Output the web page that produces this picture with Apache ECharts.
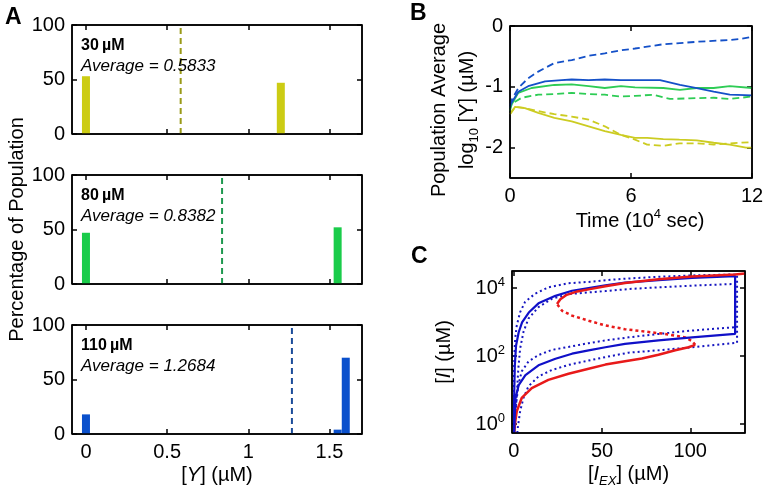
<!DOCTYPE html>
<html><head><meta charset="utf-8">
<script src="https://cdn.jsdelivr.net/npm/echarts@6/dist/echarts.min.js"></script>
<style>html,body{margin:0;padding:0;background:#fff}#c{width:766px;height:491px}</style>
</head><body><div id="c"></div>
<script>
// ---------- Panel A data ----------
const aConc = ['30', '80', '110'];
const aAverage = [0.5833, 0.8382, 1.2684];
const aBarsX = [[0, 1.2], [0, 1.55], [0, 1.55, 1.6]];
const aBarsPct = [[53, 47], [47, 52], [18, 4, 70]];
const aColors = ['#CCCC14', '#1ACC4A', '#0A50CC'];
const aLineColors = ['#9A9A18', '#1F9950', '#1C4C9A'];
const aXTicks = [0, 0.5, 1, 1.5];
const aYTicks = [0, 50, 100];

// ---------- Panel B data: [time (10^4 s), log10 <Y>] ----------
const bBlueDashed = [[0,-1.3],[0.08,-1.22],[0.41,-1.02],[0.9,-0.86],[1.4,-0.75],[2.2,-0.61],[3.06,-0.56],[3.9,-0.49],[4.7,-0.45],[5.5,-0.4],[6.2,-0.37],[7.6,-0.3],[9.26,-0.26],[10.9,-0.23],[11.5,-0.21],[12,-0.18]];
const bBlueSolid = [[0,-1.35],[0.05,-1.28],[0.41,-1.08],[0.9,-0.99],[1.74,-0.91],[2.56,-0.89],[3.06,-0.88],[3.9,-0.89],[4.7,-0.88],[5.5,-0.89],[6.2,-0.89],[7.44,-0.89],[8.43,-0.97],[9.26,-1.02],[10.1,-1.08],[10.9,-1.13],[12,-1.14]];
const bGreenSolid = [[0,-1.35],[0.1,-1.28],[0.41,-1.1],[1.07,-1.02],[2.2,-0.97],[3.06,-0.96],[3.9,-0.99],[4.7,-1.02],[5.5,-0.99],[6.2,-1.01],[7.6,-1.02],[8.43,-1.05],[9.26,-1.02],[10.1,-1.02],[10.9,-0.99],[12,-1.02]];
const bGreenDashed = [[0,-1.4],[0.08,-1.28],[0.58,-1.18],[1.4,-1.13],[2.2,-1.12],[3.06,-1.1],[3.9,-1.12],[4.7,-1.13],[5.5,-1.16],[6.2,-1.15],[7.1,-1.13],[7.93,-1.2],[8.9,-1.19],[10.1,-1.18],[10.9,-1.2],[12,-1.16]];
const bYellowSolid = [[0,-1.45],[0.25,-1.33],[0.74,-1.35],[1.4,-1.43],[2.2,-1.51],[3.06,-1.57],[3.9,-1.65],[4.7,-1.73],[5.5,-1.79],[6.2,-1.84],[6.8,-1.84],[7.6,-1.86],[8.4,-1.87],[9.26,-1.88],[10.1,-1.92],[10.9,-1.95],[11.7,-2.0],[12,-2.0]];
const bYellowDashed = [[0,-1.45],[0.25,-1.33],[0.74,-1.35],[1.4,-1.4],[2.2,-1.45],[3.06,-1.49],[3.9,-1.54],[4.7,-1.65],[5.5,-1.79],[6.2,-1.87],[6.8,-1.95],[7.6,-1.97],[8.4,-1.93],[9.26,-1.93],[10.1,-1.95],[10.9,-1.93],[12,-1.91]];
const bXTicks = [0, 6, 12];
const bYTicks = [-2, -1, 0];

// ---------- Panel C data: [I_EX (uM), log10 [I] (uM)] ----------
const cRedLower = [[0.3,-0.26],[0.8,0.05],[1.7,0.38],[4.5,0.77],[10.2,1.06],[19.6,1.3],[31,1.48],[42.4,1.63],[51.9,1.75],[63,1.85],[72.6,1.93],[82,2.04],[91.5,2.17],[99,2.26],[102.8,2.33]];
const cRedMiddle = [[102.8,2.33],[101,2.44],[97,2.55],[85.8,2.65],[74.5,2.72],[63,2.79],[51.9,2.9],[42.4,3.04],[33,3.19],[27.4,3.33],[24.5,3.53]];
const cRedUpper = [[24.5,3.53],[26.4,3.67],[30,3.8],[36,3.9],[42.4,3.96],[51.9,4.05],[63,4.15],[82,4.26],[101,4.34],[125.4,4.4],[131,4.43]];
const cBlueSolid = [[0.3,-0.26],[0.5,0.17],[1,0.76],[2.8,1.15],[6.6,1.44],[14,1.73],[23.6,1.92],[33,2.07],[42.4,2.17],[51.9,2.26],[63,2.36],[82,2.46],[101,2.55],[125.4,2.65],[125.4,4.35],[101,4.3],[82,4.23],[63,4.16],[51.9,4.08],[42.4,4.0],[33,3.92],[23.6,3.77],[14,3.55],[8.5,3.28],[4.7,2.99],[2.8,2.7],[1.3,2.31],[0.6,1.73],[0.2,0.75],[0.1,-0.26]];
const cBlueOuter = [[0,0.8],[0.3,2.0],[0.8,2.52],[1.7,2.9],[3.6,3.29],[6.4,3.59],[12,3.83],[19.6,4.02],[31,4.14],[42.4,4.18],[51.9,4.23],[65,4.28],[82,4.33],[101,4.37],[126.5,4.4],[126.5,2.39],[101,2.26],[82,2.17],[65,2.1],[51.9,1.97],[42.4,1.87],[31,1.74],[21.5,1.59],[14,1.4],[8.3,1.11],[5.5,0.77],[3.6,0.38],[2.3,-0.1],[2.0,-0.26]];
const cBlueInner = [[0.5,-0.1],[1.7,0.86],[2.6,1.64],[3.6,2.22],[5.5,2.71],[8.3,3.1],[14,3.44],[21.5,3.68],[31,3.82],[42.4,3.87],[51.9,3.91],[65,3.97],[82,4.02],[101,4.07],[125.4,4.12],[125.4,2.85],[101,2.75],[82,2.65],[65,2.55],[51.9,2.46],[42.4,2.38],[31,2.27],[21.5,2.18],[14,2.03],[8.3,1.84],[4.5,1.55],[2.6,1.15],[1.1,0.48],[0.3,-0.1]];
const cXTicks = [0, 50, 100];
const cYTicks = [0, 2, 4];

const FONT = 'Liberation Sans';
const chart = echarts.init(document.getElementById('c'), null, {renderer: 'canvas'});

const panels = [
  {g: {left: 72, top: 25, width: 290, height: 109}, x: [-0.086, 1.7, aXTicks], y: [0, 100, aYTicks]},
  {g: {left: 72, top: 175, width: 290, height: 109}, x: [-0.086, 1.7, aXTicks], y: [0, 100, aYTicks]},
  {g: {left: 72, top: 325, width: 290, height: 109}, x: [-0.086, 1.7, aXTicks], y: [0, 100, aYTicks]},
  {g: {left: 510, top: 26, width: 242, height: 152}, x: [0, 12, bXTicks], y: [-2.5, 0, bYTicks]},
  {g: {left: 512, top: 271, width: 233, height: 162}, x: [-1, 131, cXTicks], y: [-0.26, 4.5, cYTicks]}
];
const blk = {color: '#000', width: 1.5};
const rich = {
  it: {fontStyle: 'italic', fontSize: 20, fontFamily: FONT, color: '#000', lineHeight: 26},
  sub: {fontSize: 13, fontFamily: FONT, color: '#000', verticalAlign: 'bottom', lineHeight: 13},
  subit: {fontSize: 13, fontFamily: FONT, color: '#000', fontStyle: 'italic', verticalAlign: 'bottom', lineHeight: 13},
  sup: {fontSize: 13, fontFamily: FONT, color: '#000', verticalAlign: 'top', lineHeight: 13}
};
function nameStyle(extra) {
  return Object.assign({color: '#000', fontFamily: FONT, fontSize: 20, lineHeight: 26, rich: rich}, extra || {});
}
const labelShowX = [false, false, true, true, true];
const grids = [], xAxes = [], yAxes = [];
function baseAxis(gi, min, max, ticks) {
  return {type: 'value', gridIndex: gi, min: min, max: max,
    axisLine: {show: false, onZero: false},
    axisTick: {show: true, inside: true, length: 5, lineStyle: blk, customValues: ticks},
    splitLine: {show: false},
    axisLabel: {show: true, customValues: ticks, color: '#000', fontFamily: FONT, fontSize: 20, margin: 7}};
}
function hiddenAxis(gi) {
  return {type: 'value', gridIndex: gi, min: 0, max: 1, show: false, splitLine: {show: false}};
}
panels.forEach((p, i) => {
  grids.push(Object.assign({show: true, borderColor: '#000', borderWidth: 1.5, backgroundColor: 'transparent',
    outerBoundsMode: 'none', containLabel: false}, p.g));
  const xa = baseAxis(i, p.x[0], p.x[1], p.x[2]);
  xa.axisLabel.show = labelShowX[i];
  xa.axisLabel.margin = 8;
  xAxes.push(xa);
  yAxes.push(baseAxis(i, p.y[0], p.y[1], p.y[2]));
});
// axis titles
Object.assign(xAxes[2], {name: '[{it|Y}] (µM)', nameLocation: 'middle', nameGap: 28, nameTextStyle: nameStyle()});
Object.assign(yAxes[1], {name: 'Percentage of Population', nameLocation: 'middle', nameRotate: 90, nameGap: 41,
  nameTextStyle: nameStyle({lineHeight: 20})});
Object.assign(xAxes[3], {name: 'Time (10{sup|4} sec)', nameLocation: 'middle', nameGap: 30,
  nameTextStyle: nameStyle({padding: [0, 0, 0, 18]})});
Object.assign(yAxes[3], {name: 'Population Average\nlog{sub|10} [Y] (µM)', nameLocation: 'middle', nameRotate: 90, nameGap: 24,
  nameTextStyle: nameStyle({lineHeight: 28, padding: [0, 16, 0, 0]})});
Object.assign(xAxes[4], {name: '[{it|I}{subit|EX}] (µM)', nameLocation: 'middle', nameGap: 27, nameTextStyle: nameStyle()});
Object.assign(yAxes[4], {name: '[{it|I}] (µM)', nameLocation: 'middle', nameRotate: 90, nameGap: 55, nameTextStyle: nameStyle()});
yAxes[4].axisLabel.formatter = v => '10{sup|' + Math.round(v) + '}';
yAxes[4].axisLabel.rich = {sup: {fontSize: 13, fontFamily: FONT, color: '#000', verticalAlign: 'top', lineHeight: 14}};
yAxes[4].axisLabel.lineHeight = 24;

// mirror tick strips: thin grid at top (ticks point down) and at right (ticks point left)
panels.forEach((p) => {
  const g = p.g;
  grids.push({left: g.left, top: g.top - 1, width: g.width, height: 1, show: false, outerBoundsMode: 'none', containLabel: false});
  let gi = grids.length - 1;
  const xa = baseAxis(gi, p.x[0], p.x[1], p.x[2]);
  xa.axisTick.inside = false; xa.axisLabel.show = false;
  xAxes.push(xa); yAxes.push(hiddenAxis(gi));
  grids.push({left: g.left + g.width, top: g.top, width: 1, height: g.height, show: false, outerBoundsMode: 'none', containLabel: false});
  gi = grids.length - 1;
  const ya = baseAxis(gi, p.y[0], p.y[1], p.y[2]);
  ya.axisTick.inside = false; ya.axisLabel.show = false;
  yAxes.push(ya); xAxes.push(hiddenAxis(gi));
});

const series = [];
for (let i = 0; i < 3; i++) {
  series.push({
    type: 'bar', xAxisIndex: i, yAxisIndex: i, barWidth: 8, silent: true,
    itemStyle: {color: aColors[i]},
    data: aBarsX[i].map((x, k) => [x, aBarsPct[i][k]])
  });
  series.push({
    type: 'line', xAxisIndex: i, yAxisIndex: i, symbol: 'none', silent: true,
    lineStyle: {color: aLineColors[i], width: 2, type: [6, 4]},
    data: [[aAverage[i], 0], [aAverage[i], 100]]
  });
}
function bLine(data, color, dashed) {
  return {type: 'line', xAxisIndex: 3, yAxisIndex: 3, symbol: 'none', silent: true, z: 3,
    lineStyle: {color: color, width: 1.8, type: dashed ? [7, 4] : 'solid'}, data: data};
}
series.push(bLine(bYellowDashed, '#CCCC22', true));
series.push(bLine(bYellowSolid, '#CCCC22', false));
series.push(bLine(bGreenDashed, '#2ECC55', true));
series.push(bLine(bGreenSolid, '#2ECC55', false));
series.push(bLine(bBlueSolid, '#1450C8', false));
series.push(bLine(bBlueDashed, '#1450C8', true));
function cLine(data, color, type, w) {
  return {type: 'line', xAxisIndex: 4, yAxisIndex: 4, symbol: 'none', silent: true,
    lineStyle: {color: color, width: w, type: type}, data: data};
}
series.push(cLine(cBlueOuter, '#1515C0', [2, 3], 2));
series.push(cLine(cBlueInner, '#1515C0', [2, 3], 2));
series.push(cLine(cRedLower, '#E81A1A', 'solid', 2.5));
series.push(cLine(cRedMiddle, '#E81A1A', [3, 3], 2.5));
series.push(cLine(cBlueSolid, '#1010C8', 'solid', 2.2));
series.push(cLine(cRedUpper, '#E81A1A', 'solid', 2.5));
// frame of each panel, drawn along the axis extents
panels.forEach((p, i) => {
  const x0 = p.x[0], x1 = p.x[1], y0 = p.y[0], y1 = p.y[1];
  series.push({type: 'line', xAxisIndex: i, yAxisIndex: i, symbol: 'none', silent: true, clip: false, z: 10,
    lineStyle: {color: '#000', width: 1.5}, data: [[x0, y0], [x1, y0], [x1, y1], [x0, y1], [x0, y0]]});
});

// texts
function title(text, left, top, size, weight, style, lh) {
  return {text: text, left: left, top: top, padding: 0, itemGap: 0,
    textStyle: {color: '#000', fontFamily: FONT, fontSize: size, fontWeight: weight, fontStyle: style, lineHeight: lh}};
}
const titles = [
  title('A', 5, 5, 23, 'bold', 'normal', 26),
  title('B', 410, 1, 23, 'bold', 'normal', 26),
  title('C', 411, 244, 23, 'bold', 'normal', 26)
];
for (let i = 0; i < 3; i++) {
  titles.push(title(aConc[i] + '\u2009µM', 81, 37 + 150 * i, 16, 'bold', 'normal', 18));
  titles.push(title('Average = ' + aAverage[i].toFixed(4), 81, 56 + 150 * i, 17, 'normal', 'italic', 20));
}

chart.setOption({
  animation: false,
  textStyle: {fontFamily: FONT},
  title: titles,
  grid: grids, xAxis: xAxes, yAxis: yAxes, series: series
});
</script></body></html>
